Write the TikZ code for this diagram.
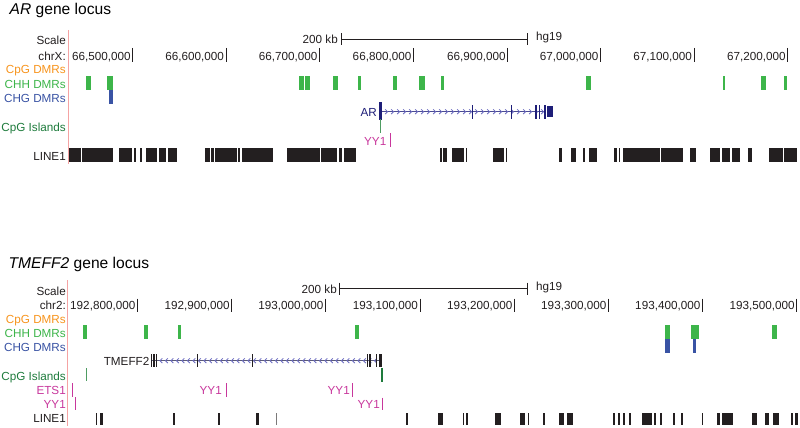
\documentclass[tikz,border=0pt]{standalone}
\usepackage{fontspec}
\setmainfont{Liberation Sans}
\definecolor{cpgo}{HTML}{F7941D}
\definecolor{chhg}{HTML}{3DB54A}
\definecolor{chgb}{HTML}{3953A4}
\definecolor{islg}{HTML}{1E7B3C}
\definecolor{islh}{HTML}{4E9C62}
\definecolor{tfm}{HTML}{C8379C}
\definecolor{navy}{HTML}{1E1E78}
\definecolor{arrowc}{HTML}{6A6AC0}
\definecolor{pinkl}{HTML}{F5A3A3}
\definecolor{blk}{HTML}{231F20}
\definecolor{gline}{HTML}{5A5A78}
\begin{document}
\begin{tikzpicture}[x=1pt,y=-1pt,font=\fontsize{11.7}{13}\selectfont,
  lbl/.style={anchor=base east,inner sep=0pt},
  lblw/.style={anchor=base west,inner sep=0pt},
  ttl/.style={anchor=base west,inner sep=0pt,font=\fontsize{15.6}{18}\selectfont},
  tickline/.style={draw=blk,line width=1pt},
  scalebar/.style={draw=blk,line width=0.8pt},
  chev/.style={draw=arrowc,line width=0.8pt}]
\useasboundingbox (0,0) rectangle (800,428);

% ================= TOP PANEL =================
\node[ttl] (t1) at (9.5,14.5) {\textit{AR} gene locus};
\draw[pinkl,line width=0.8pt] (68.3,30) -- (68.3,164);

\node[lbl,text=blk] (s1) at (66,45) {Scale};
\coordinate (sb1a) at (341,39); \coordinate (sb1b) at (527,39);
\draw[scalebar] (sb1a) -- (sb1b);
\draw[scalebar] (341,33.5) -- (341,45.5);
\draw[scalebar] (527,33.5) -- (527,45.5);
\node[lbl,text=blk] (kb1) at (338,44) {200 kb};
\node[lblw,text=blk] (hg1) at (536,41) {hg19};

\node[lbl,text=blk] (chrX) at (66,60) {chrX:};
\foreach \x/\t [count=\i] in {132.7/{66,500,000},226/{66,600,000},319.5/{66,700,000},413.3/{66,800,000},507.7/{66,900,000},600.5/{67,000,000},694/{67,100,000},787.7/{67,200,000}}{
  \node[lbl,text=blk] (ta\i) at (\x-1.8,60) {\t};
  \draw[tickline] (\x,48) -- (\x,62);
}

\node[lbl,text=cpgo] (l1a) at (66,74) {CpG DMRs};
\node[lbl,text=chhg] (l1b) at (66,88.3) {CHH DMRs};
\node[lbl,text=chgb] (l1c) at (66,102.3) {CHG DMRs};
\node[lbl,text=islg] (l1d) at (66,131.5) {CpG Islands};
\node[lbl,text=blk] (l1e) at (66,160) {LINE1};

% CHH DMRs
\foreach \a/\b in {86/91,107.3/112.7,299.3/304,305/310,333/338,358/361,393/397,419/425,441/444,586/591,723/725,761/766,784/787}
  \fill[chhg] (\a,76) rectangle (\b,90);
% CHG DMRs
\fill[chgb] (109,90) rectangle (113.3,104);

% AR gene
\node[lbl,text=navy] (ar) at (377,116.5) {AR};
\draw[navy!80,line width=0.8pt] (381,111.7) -- (546,111.7);
\foreach \x in {387,393,...,543}
  \draw[chev] (\x-1.8,109.4) -- (\x+0.6,111.7) -- (\x-1.8,114);
\fill[navy] (379.3,102) rectangle (381.7,120);
\foreach \x in {472.7,511.7,536,539.5,545}
  \fill[navy] (\x-0.6,104.5) rectangle (\x+0.6,118.5);
\fill[navy] (546.7,106) rectangle (553.3,117);

% CpG island
\fill[islh] (379.6,119) rectangle (381.4,133);

% YY1
\node[lbl,text=tfm] (yy1a) at (386.5,145) {YY1};
\draw[tfm,line width=0.9pt] (390.3,133) -- (390.3,147);

% LINE1
\foreach \a/\b in {69/80.5,81.5/113,119/131.5,134/135.5,140/141.5,145.5/157,158.5/166,168/177,205/209.5,211/213.5,215/236.5,238/240,242/273,287/320,321/337,339/341.5,343.5/356,440/441.5,443/447,452/464,465.5/467,493/504,505.5/507,559/562,571/576,583/584.5,589/597,614/617,618.5/620,623/660,661/683,690/696,710/720,722/730,732/740,748/752,769/783,784/797}
  \fill[blk] (\a,148) rectangle (\b,162);

% ================= BOTTOM PANEL =================
\node[ttl] (t2) at (8.5,268.5) {\textit{TMEFF2} gene locus};
\draw[pinkl,line width=0.8pt] (67.7,280) -- (67.7,426);

\node[lbl,text=blk] (s2) at (66,295) {Scale};
\coordinate (sb2a) at (339.3,288.3); \coordinate (sb2b) at (527.3,288.3);
\draw[scalebar] (sb2a) -- (sb2b);
\draw[scalebar] (339.3,282.5) -- (339.3,294.5);
\draw[scalebar] (527.3,282.5) -- (527.3,294.5);
\node[lbl,text=blk] (kb2) at (337,293.3) {200 kb};
\node[lblw,text=blk] (hg2) at (536,290.7) {hg19};

\node[lbl,text=blk] (chr2) at (66,309.3) {chr2:};
\foreach \x/\t [count=\i] in {137.3/{192,800,000},231.7/{192,900,000},325.5/{193,000,000},420/{193,100,000},514.3/{193,200,000},608.3/{193,300,000},702.3/{193,400,000},796.7/{193,500,000}}{
  \node[lbl,text=blk] (tb\i) at (\x-1.8,309.3) {\t};
  \draw[tickline] (\x,298.5) -- (\x,311.5);
}

\node[lbl,text=cpgo] (l2a) at (66,323) {CpG DMRs};
\node[lbl,text=chhg] (l2b) at (66,337) {CHH DMRs};
\node[lbl,text=chgb] (l2c) at (66,351.3) {CHG DMRs};
\node[lbl,text=islg] (l2d) at (66,380.5) {CpG Islands};
\node[lbl,text=tfm] (l2e) at (66,394.3) {ETS1};
\node[lbl,text=tfm] (l2f) at (66,408.7) {YY1};
\node[lbl,text=blk] (l2g) at (66,422.5) {LINE1};

% CHH DMRs
\foreach \a/\b in {82.7/87.3,144/148,177.7/180.7,354.7/358.7,665/670,691/698.5,771.7/777.3}
  \fill[chhg] (\a,325) rectangle (\b,339);
% CHG DMRs
\foreach \a/\b in {665/670,693/696}
  \fill[chgb] (\a,339) rectangle (\b,353);

% TMEFF2 gene
\node[lbl,text=blk] (tm) at (149.5,365.5) {TMEFF2};
\draw[gline,line width=0.8pt] (151,360.7) -- (381,360.7);
\foreach \x in {160.5,166,...,375}
  \draw[chev] (\x+1.8,358.4) -- (\x-0.6,360.7) -- (\x+1.8,363);
\foreach \x in {151.5,154,156.7,197.7,252.7,367.7,370,376.7,379.3,381}
  \fill[blk] (\x-0.55,354) rectangle (\x+0.55,367);

% CpG islands
\fill[islh] (86,368) rectangle (87.4,381);
\fill[islg] (380.8,368) rectangle (382.6,381.7);

% ETS1 row
\draw[tfm,line width=0.9pt] (72.3,383) -- (72.3,397);
\node[lbl,text=tfm] (yy2a) at (222,394.3) {YY1};
\draw[tfm,line width=0.9pt] (226,383) -- (226,397);
\node[lbl,text=tfm] (yy2b) at (350,394.3) {YY1};
\draw[tfm,line width=0.9pt] (352.5,383) -- (352.5,397);

% YY1 row
\draw[tfm,line width=0.9pt] (75.7,397) -- (75.7,410);
\node[lbl,text=tfm] (yy2c) at (380,408.7) {YY1};
\draw[tfm,line width=0.9pt] (382.7,397.5) -- (382.7,410);

% LINE1
\foreach \a/\b in {96/97.3,100/102.5,173/175,218/220,256/259,405.7/407.7,438/443,462.7/464,465.7/468,495/501,519.5/524.5,527.5/529,543/544.5,559.3/563.5,567/573,613/614.5,618/620,623/625,628.5/630.5,641.7/651.5,654/656,660/661.5,673/675,681/683,701.7/703.3,716.7/720,721.7/733.3,752/756.7,765/769,773.3/779.3,790.5/792.5,795/798}
  \fill[blk] (\a,412.7) rectangle (\b,425);
\fill[blk!60] (275.5,412.7) rectangle (276.7,425);
\end{tikzpicture}
\end{document}
